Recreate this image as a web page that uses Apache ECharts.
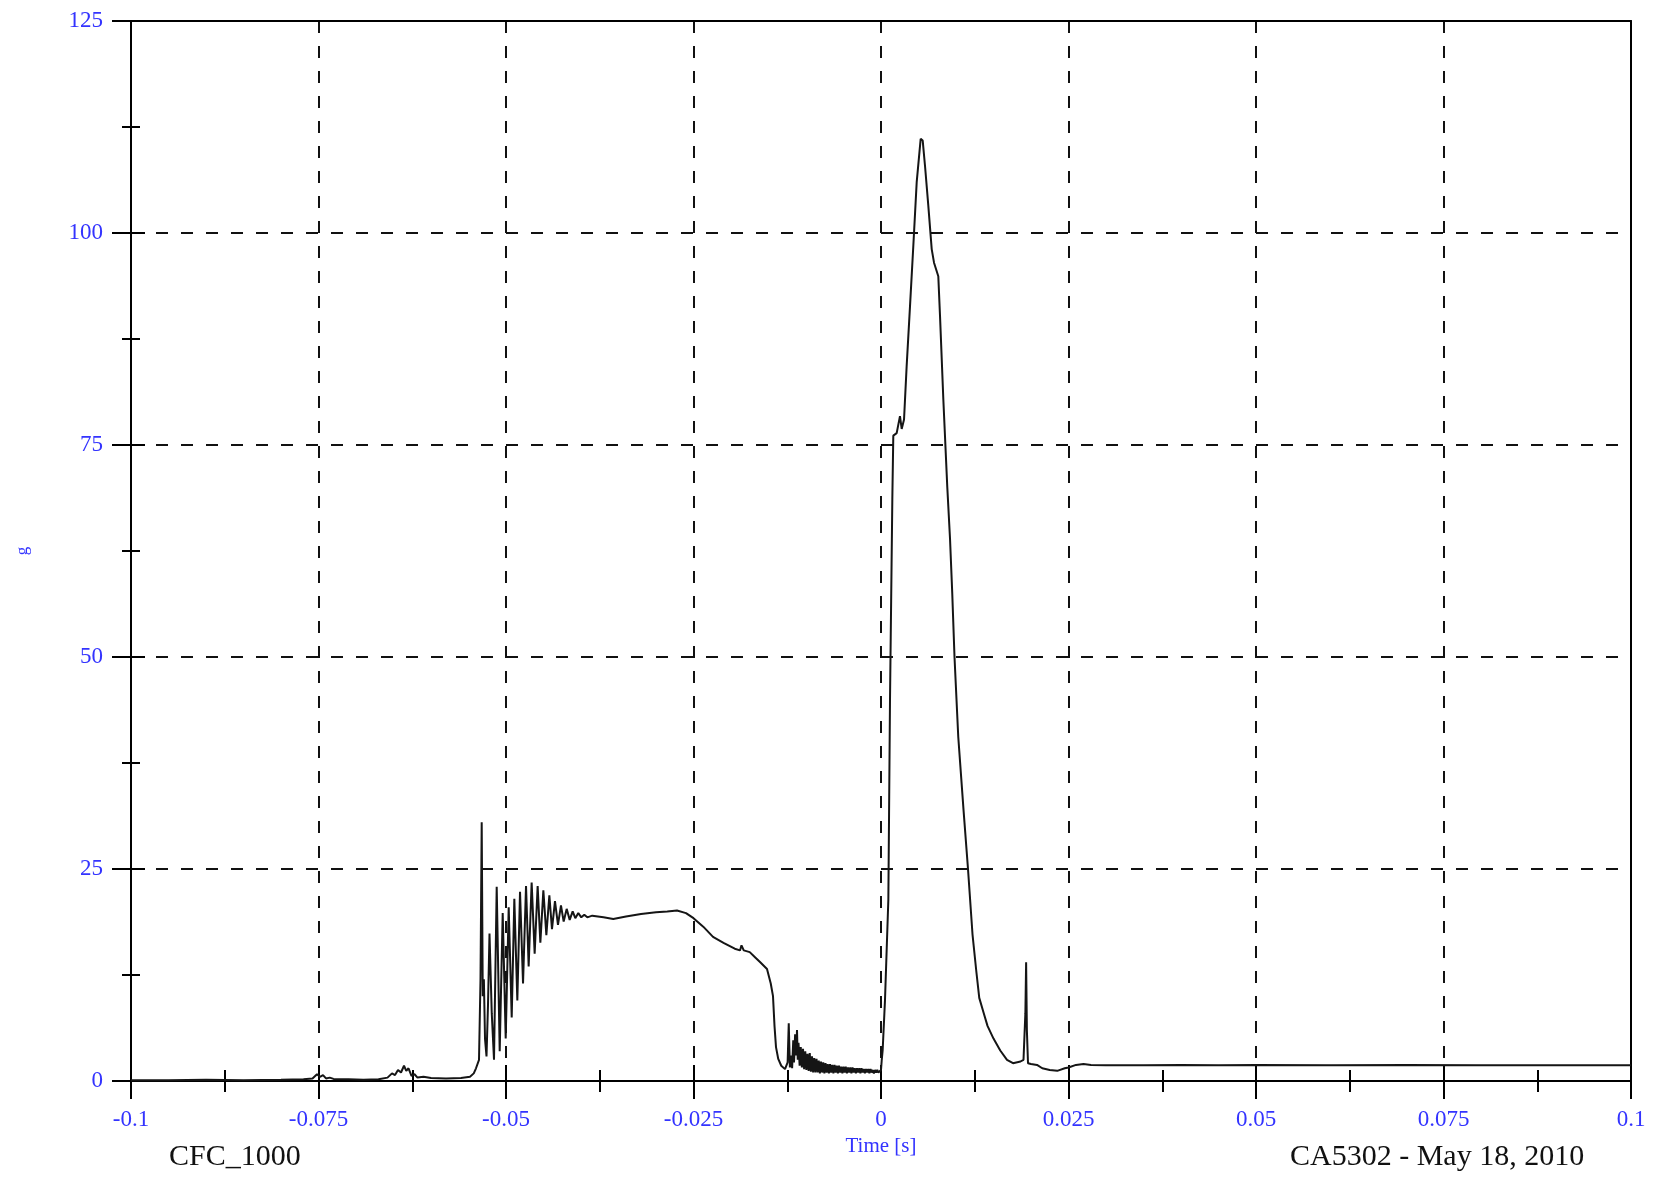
<!DOCTYPE html>
<html>
<head>
<meta charset="utf-8">
<script src="https://cdn.jsdelivr.net/npm/echarts@6/dist/echarts.min.js"></script>
<style>
html,body{margin:0;padding:0;background:#fff;}
#chart{width:1661px;height:1179px;}
</style>
</head>
<body>
<div id="chart"></div>
<script>
// ---- data (time [s], acceleration [g]) ----
const timeBaseline = [-0.1,-0.095,-0.09,-0.085,-0.08,-0.077,-0.0758,-0.0752,-0.0748,-0.0744,-0.074,-0.0735,-0.073,-0.071,-0.069,-0.067,-0.0658,-0.0652,-0.0648,-0.0644,-0.064,-0.0636,-0.0633,-0.063,-0.0626,-0.0622,-0.0618,-0.061,-0.06,-0.058,-0.056,-0.0548,-0.0543,-0.054,-0.0536,-0.0534];
const accBaseline  = [0.1,0.1,0.15,0.1,0.15,0.2,0.3,0.8,0.5,0.7,0.3,0.4,0.25,0.2,0.15,0.2,0.4,0.9,0.7,1.3,1.0,1.8,1.2,1.5,0.6,0.8,0.4,0.5,0.35,0.3,0.35,0.5,0.9,1.5,2.5,12];

const timeImpact1 = [-0.05324,-0.0531,-0.05295,-0.0528,-0.0526,-0.0524,-0.0522,-0.0519,-0.0516,-0.05124,-0.05084,-0.05044,-0.05004,-0.04964,-0.04924,-0.04889,-0.04849,-0.04813,-0.04773,-0.04733,-0.04698,-0.04658,-0.04618,-0.04578,-0.04542,-0.04502,-0.04462,-0.04422,-0.04387,-0.04347,-0.04307,-0.04267,-0.04231,-0.04191,-0.04151,-0.04111,-0.04076,-0.04036,-0.03996,-0.03956,-0.03916];
const accImpact1  = [30.5,10,12,5,2.9,9,17.4,8,2.5,22.9,3.5,19.8,5.0,20.5,7.5,21.5,9.5,22.3,11.5,23.0,13.5,23.4,15.0,23.0,16.3,22.5,17.2,21.9,17.9,21.2,18.4,20.7,18.8,20.3,19.0,20.0,19.2,19.8,19.3,19.6,19.3];

const timePlateau = [-0.0385,-0.037,-0.0357,-0.034,-0.032,-0.030,-0.0285,-0.0272,-0.026,-0.025,-0.0237,-0.0224,-0.021,-0.0195,-0.0188,-0.0186,-0.0183,-0.0175,-0.0168,-0.0161,-0.0152,-0.0147,-0.0144,-0.0142,-0.0140,-0.0137,-0.0133,-0.0128,-0.01245,-0.0123,-0.01215];
const accPlateau  = [19.5,19.3,19.1,19.4,19.7,19.9,20.0,20.1,19.8,19.2,18.2,17.0,16.3,15.6,15.4,16.0,15.4,15.2,14.6,14.0,13.2,11.5,10.0,6.5,4.0,2.6,1.8,1.4,2.2,6.8,1.6];

const timeNoise = [-0.012,-0.01185,-0.0117,-0.0116,-0.01145,-0.0113,-0.0112,-0.0111,-0.011,-0.01085,-0.0107,-0.01055,-0.0104,-0.01025,-0.0101,-0.00995,-0.0098,-0.00965,-0.0095,-0.00935,-0.0092,-0.00905,-0.0089,-0.00875,-0.0086,-0.00845,-0.0083,-0.00815,-0.008,-0.00785,-0.0077,-0.00755,-0.0074,-0.00725,-0.0071,-0.00695,-0.0068,-0.00665,-0.0065,-0.00635,-0.0062,-0.00605,-0.0059,-0.00575,-0.0056,-0.00545,-0.0053,-0.00515,-0.005,-0.00485,-0.0047,-0.00455,-0.0044,-0.00425,-0.0041,-0.00395,-0.0038,-0.00365,-0.0035,-0.00335,-0.0032,-0.00305,-0.0029,-0.00275,-0.0026,-0.00245,-0.0023,-0.00215,-0.002,-0.00185,-0.0017,-0.00155,-0.0014,-0.00125,-0.0011,-0.00095,-0.0008,-0.00065,-0.0005,-0.00035,-0.0002,0];
const accNoise  = [3.0,1.5,4.8,2.2,5.5,3.0,6.0,2.5,4.5,1.8,4.0,1.6,3.8,1.4,3.5,1.3,3.2,1.2,3.3,1.1,2.9,1.0,2.7,1.0,2.6,1.0,2.4,0.9,2.3,1.0,2.2,0.9,2.1,1.0,2.0,0.9,2.0,1.0,1.9,0.9,1.9,1.0,1.8,0.9,1.8,1.0,1.7,0.9,1.7,1.0,1.7,0.9,1.6,1.0,1.6,0.9,1.6,1.0,1.5,0.9,1.5,1.0,1.5,0.9,1.5,1.0,1.4,0.9,1.4,1.0,1.4,0.9,1.4,1.0,1.3,0.9,1.3,1.0,1.3,1.0,1.2,1.3];

const timeImpact2 = [0.0001,0.00022,0.00053,0.00098,0.0012,0.00151,0.00164,0.00209,0.00253,0.00276,0.00307,0.00342,0.00387,0.00431,0.00476,0.00529,0.00556,0.00587,0.00631,0.00676,0.00707,0.00764,0.00787,0.00831,0.00884,0.0092,0.0095,0.0098,0.0103,0.011,0.0116,0.0122,0.0127,0.0131,0.0137,0.0142,0.015,0.0159,0.0168,0.0176,0.0186,0.019,0.01925,0.01935,0.01945,0.0196,0.02,0.0208,0.0215,0.0225,0.0235,0.0245,0.025,0.026,0.027,0.028,0.03,0.035,0.04,0.045,0.05,0.06,0.07,0.08,0.09,0.1];
const accImpact2  = [2.5,3.6,9.5,21.4,45,68.6,76.1,76.4,78.4,76.9,78.0,84.3,91.4,98.5,106,111.1,110.9,107.9,103.2,98.1,96.5,94.9,90.2,80.4,70,64,57.5,50,40.6,32,25,17.3,13,9.8,8,6.5,5.0,3.6,2.5,2.1,2.3,2.5,8,14.0,6,2.1,2.0,1.9,1.5,1.3,1.2,1.5,1.6,1.9,2.0,1.9,1.85,1.85,1.9,1.85,1.9,1.85,1.9,1.85,1.85,1.85];

const xTickLabels = ['-0.1','-0.075','-0.05','-0.025','0','0.025','0.05','0.075','0.1'];
const yTickLabels = ['0','25','50','75','100','125'];

const seriesData = [];
[[timeBaseline,accBaseline],[timeImpact1,accImpact1],[timePlateau,accPlateau],[timeNoise,accNoise],[timeImpact2,accImpact2]].forEach(function(p){
  for (let i = 0; i < p[0].length; i++) seriesData.push([p[0][i], p[1][i]]);
});

const BLUE = '#3333ff';
const SERIF = '"Liberation Serif","Times New Roman",serif';
const GRID = {type:[12,13], color:'#111', width:2};
const AX = {color:'#000', width:2};

const chart = echarts.init(document.getElementById('chart'), null, {renderer:'canvas'});
const xBase = {type:'value', min:-0.1, max:0.1, interval:0.025, gridIndex:0};
const yBase = {type:'value', min:0, max:125, interval:25, gridIndex:0};

chart.setOption({
  animation:false,
  backgroundColor:'#fff',
  grid:{left:131, right:30, top:21, bottom:98, containLabel:false},
  xAxis:[
    Object.assign({}, xBase, {
      position:'bottom',
      name:'Time [s]', nameLocation:'middle', nameGap:50,
      nameTextStyle:{color:BLUE, fontFamily:SERIF, fontSize:21},
      axisLine:{show:true, onZero:false, lineStyle:AX},
      axisTick:{show:true, inside:false, length:18, lineStyle:AX},
      minorTick:{show:true, splitNumber:2, length:11, lineStyle:AX},
      axisLabel:{show:true, margin:27, color:BLUE, fontFamily:SERIF, fontSize:23,
        formatter:function(v){ return xTickLabels[Math.round((v+0.1)/0.025)]; }},
      splitLine:{show:true, lineStyle:GRID}
    }),
    Object.assign({}, xBase, {
      position:'bottom',
      axisLine:{show:false, onZero:false},
      axisTick:{show:true, inside:true, length:16, lineStyle:AX},
      minorTick:{show:true, splitNumber:2, length:11, lineStyle:AX},
      axisLabel:{show:false}, splitLine:{show:false}
    }),
    Object.assign({}, xBase, {
      position:'top',
      axisLine:{show:true, onZero:false, lineStyle:AX},
      axisTick:{show:false}, axisLabel:{show:false}, splitLine:{show:false}
    })
  ],
  yAxis:[
    Object.assign({}, yBase, {
      position:'left',
      name:'g', nameLocation:'middle', nameGap:100, nameRotate:90,
      nameTextStyle:{color:BLUE, fontFamily:SERIF, fontSize:17},
      axisLine:{show:true, onZero:false, lineStyle:AX},
      axisTick:{show:true, inside:false, length:19, lineStyle:AX},
      minorTick:{show:true, splitNumber:2, length:9, lineStyle:AX},
      axisLabel:{show:true, margin:28, color:BLUE, fontFamily:SERIF, fontSize:23,
        formatter:function(v){ return yTickLabels[Math.round(v/25)]; }},
      splitLine:{show:true, lineStyle:GRID}
    }),
    Object.assign({}, yBase, {
      position:'left',
      axisLine:{show:false, onZero:false},
      axisTick:{show:true, inside:true, length:14, lineStyle:AX},
      minorTick:{show:true, splitNumber:2, length:9, lineStyle:AX},
      axisLabel:{show:false}, splitLine:{show:false}
    }),
    Object.assign({}, yBase, {
      position:'right',
      axisLine:{show:true, onZero:false, lineStyle:AX},
      axisTick:{show:false}, axisLabel:{show:false}, splitLine:{show:false}
    })
  ],
  series:[{
    type:'line', xAxisIndex:0, yAxisIndex:0,
    data:seriesData, showSymbol:false, symbol:'none', smooth:false,
    lineStyle:{color:'#151515', width:2}, z:5
  }],
  graphic:[
    {type:'text', left:169, top:1142, style:{text:'CFC_1000', fill:'#111', font:'30px "Liberation Serif", serif'}},
    {type:'text', left:1290, top:1142, style:{text:'CA5302 - May 18, 2010', fill:'#111', font:'30px "Liberation Serif", serif'}}
  ]
});
</script>
</body>
</html>
